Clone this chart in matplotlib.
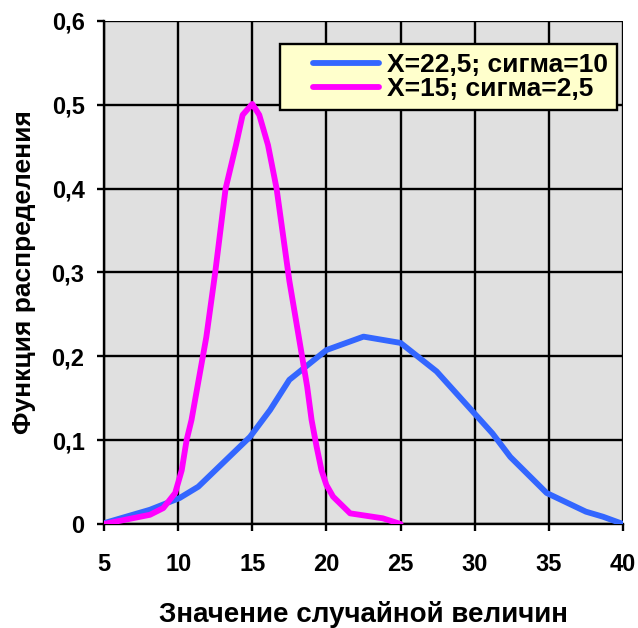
import matplotlib
matplotlib.use("Agg")
import matplotlib.pyplot as plt
from matplotlib.ticker import MultipleLocator, FuncFormatter
from matplotlib.legend_handler import HandlerLine2D

plt.rcParams['font.family'] = ['Liberation Sans', 'DejaVu Sans']

# Blue: X=22,5; sigma=10
blue_x = [5, 8.1, 10.1, 11.36, 14.85, 16.2, 17.5, 20.0, 22.5, 25.0, 27.43, 31.2, 32.4, 34.85, 37.5, 38.65, 40]
blue_y = [0.001, 0.017, 0.031, 0.0445, 0.104, 0.136, 0.172, 0.2075, 0.2235, 0.216, 0.182, 0.108, 0.080, 0.037, 0.0147, 0.0087, 0.0]

# Magenta: X=15; sigma=2,5
mag_x = [5, 8.1, 9.0, 9.8, 10.24, 10.57, 10.9, 11.9, 12.5, 13.2, 13.9, 14.35, 15.0,
         15.47, 16.06, 16.64, 17.5, 18.7, 19.0, 19.34, 19.67, 20.0, 20.45, 21.6, 23.8, 25]
mag_y = [0.0, 0.011, 0.019, 0.037, 0.064, 0.10, 0.124, 0.223, 0.30, 0.40, 0.452, 0.488, 0.501,
         0.488, 0.452, 0.40, 0.29, 0.164, 0.124, 0.092, 0.064, 0.0465, 0.0326, 0.0127, 0.0068, 0.0]

labels = ["X=22,5; сигма=10", "X=15; сигма=2,5"]
xlabel = "Значение случайной величин"
ylabel = "Функция распределения"


class RightHandler(HandlerLine2D):
    """Line handle drawn only over the right part of the handle box."""
    def create_artists(self, legend, orig_handle, xdescent, ydescent, width, height, fontsize, trans):
        arts = super().create_artists(legend, orig_handle, xdescent, ydescent, width, height, fontsize, trans)
        for a in arts:
            xd = list(a.get_xdata())
            if len(xd) >= 2:
                lo, hi = min(xd), max(xd)
                a.set_xdata([lo + 0.27 * (hi - lo), hi])
                a.set_ydata([a.get_ydata()[0]] * 2)
        return arts


fig = plt.figure(figsize=(6.38, 6.28), dpi=100)
ax = fig.add_axes([104/638, 104/628, 519/638, 503/628])
ax.set_facecolor('#e0e0e0')

l1, = ax.plot(blue_x, blue_y, color='#3366ff', lw=4.2, solid_capstyle='round', solid_joinstyle='round', label=labels[0], zorder=3)
l2, = ax.plot(mag_x, mag_y, color='#ff00ff', lw=4.2, solid_capstyle='round', solid_joinstyle='round', label=labels[1], zorder=4)

ax.set_xlim(5, 40)
ax.set_ylim(0, 0.6)
ax.xaxis.set_major_locator(MultipleLocator(5))
ax.yaxis.set_major_locator(MultipleLocator(0.1))
ax.yaxis.set_major_formatter(FuncFormatter(lambda v, p: "0" if abs(v) < 1e-9 else f"{v:.1f}".replace('.', ',')))
ax.grid(True, color='black', lw=1.7, zorder=1)
ax.set_axisbelow(True)
for s in ['top', 'right']:
    ax.spines[s].set_visible(False)
for s in ['left', 'bottom']:
    ax.spines[s].set_color('black')
    ax.spines[s].set_linewidth(1.7)
    ax.spines[s].set_zorder(2)
ax.tick_params(direction='out', length=5, width=1.7, labelsize=17)
ax.tick_params(axis='x', pad=16)
ax.tick_params(axis='y', pad=9)
for t in ax.get_xticklabels() + ax.get_yticklabels():
    t.set_fontweight('bold')

ax.set_xlabel(xlabel, fontsize=20, fontweight='bold', labelpad=18)
ax.set_ylabel(ylabel, fontsize=19, fontweight='bold', labelpad=11)

xr = (617 - 104) / 519
yt = (524 - 44) / 503
leg = ax.legend(handles=[l1, l2], loc='upper right', bbox_to_anchor=(xr, yt), borderaxespad=0,
                handler_map={l1: RightHandler(), l2: RightHandler()},
                prop={'size': 19, 'weight': 'bold'}, handlelength=3.4, handletextpad=0.3,
                labelspacing=0.0, borderpad=0.35, fancybox=False, framealpha=1,
                facecolor='#ffffcc', edgecolor='black')
leg.get_frame().set_linewidth(1.7)
leg.set_zorder(5)

fig.savefig("out.png", dpi=100)
